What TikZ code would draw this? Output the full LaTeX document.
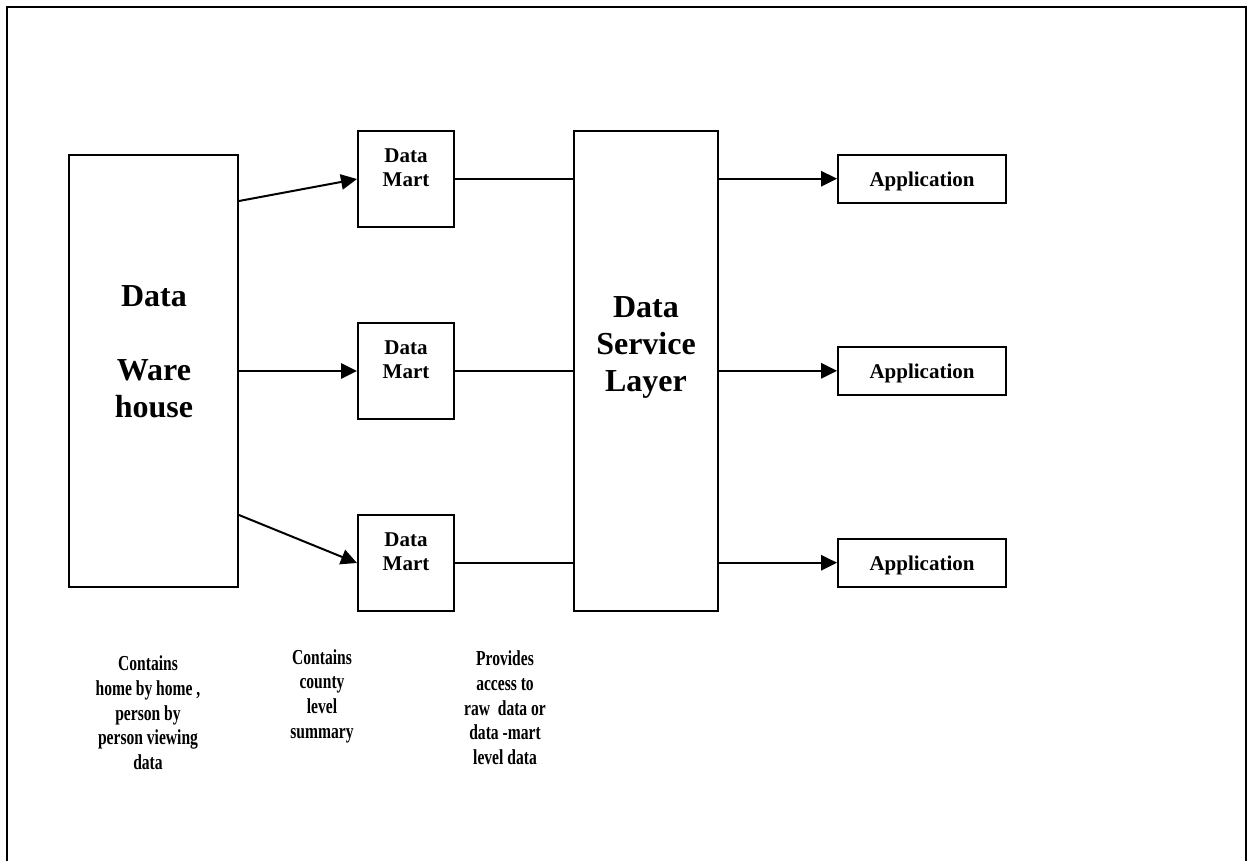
\documentclass[tikz,border=0pt]{standalone}
\usepackage{fontspec}
\setmainfont{Liberation Serif}
\usetikzlibrary{arrows.meta,calc}
\begin{document}
\begin{tikzpicture}[x=0.75pt,y=-0.75pt,
  box/.style={draw,line width=1.5pt,rectangle,inner sep=0pt},
  big/.style={inner sep=0pt,align=center,font=\fontsize{24}{27.75}\selectfont\bfseries},
  small/.style={inner sep=0pt,align=center,font=\fontsize{15.75}{18}\selectfont\bfseries},
  note/.style={inner sep=0pt,align=center,xscale=0.73,transform shape,font=\fontsize{16}{18.5}\selectfont\bfseries},
  conn/.style={line width=1.5pt},
  arr/.style={line width=1.5pt,-{Triangle[length=12pt,width=11.5pt]}}
]
\useasboundingbox (0,0) rectangle (1248,861);
\draw[line width=1.5pt] (7,861) -- (7,7) -- (1246,7) -- (1246,861);

% boxes
\node[box,minimum width=126.75pt,minimum height=324pt] (wh) at (153.5,371) {};
\node[box,minimum width=72pt,minimum height=71.6pt] (dm1) at (406,179) {};
\node[box,minimum width=72pt,minimum height=71.6pt] (dm2) at (406,371) {};
\node[box,minimum width=72pt,minimum height=71.6pt] (dm3) at (406,563) {};
\node[box,minimum width=108pt,minimum height=360pt] (dsl) at (646,370.7) {};
\node[box,minimum width=126pt,minimum height=36pt] (app1) at (922,178.7) {};
\node[box,minimum width=126pt,minimum height=36pt] (app2) at (922,370.8) {};
\node[box,minimum width=126pt,minimum height=36pt] (app3) at (922,562.7) {};

% box texts
\node[big] (whtxt) at (154,352) {Data\\[27.75pt]Ware\\house};
\node[small] (dm1txt) at (406,168) {Data\\Mart};
\node[small] (dm2txt) at (406,360) {Data\\Mart};
\node[small] (dm3txt) at (406,552) {Data\\Mart};
\node[big] (dsltxt) at (646,347) {Data\\Service\\Layer};
\node[small] (app1txt) at ($(app1)+(0,2.5)$) {Application};
\node[small] (app2txt) at ($(app2)+(0,2.5)$) {Application};
\node[small] (app3txt) at ($(app3)+(0,2.5)$) {Application};

% connectors
\draw[arr] ($(wh.north east)+(0,47)$) -- (dm1.west);
\draw[arr] (wh.east) -- (dm2.west);
\draw[arr] ($(wh.north east)+(0,361)$) -- (dm3.west);
\draw[conn] (dm1.east) -- (dm1.east -| dsl.west);
\draw[conn] (dm2.east) -- (dm2.east -| dsl.west);
\draw[conn] (dm3.east) -- (dm3.east -| dsl.west);
\draw[arr] (app1.west -| dsl.east) -- (app1.west);
\draw[arr] (app2.west -| dsl.east) -- (app2.west);
\draw[arr] (app3.west -| dsl.east) -- (app3.west);

% notes
\node[note] (n1) at (148,713) {Contains\\home by home ,\\person by\\person viewing\\data};
\node[note] (n2) at (322,696) {Contains\\county\\level\\summary};
\node[note] (n3) at (505,708) {Provides\\access to\\raw~ data or\\data -mart\\level data};
\end{tikzpicture}
\end{document}
